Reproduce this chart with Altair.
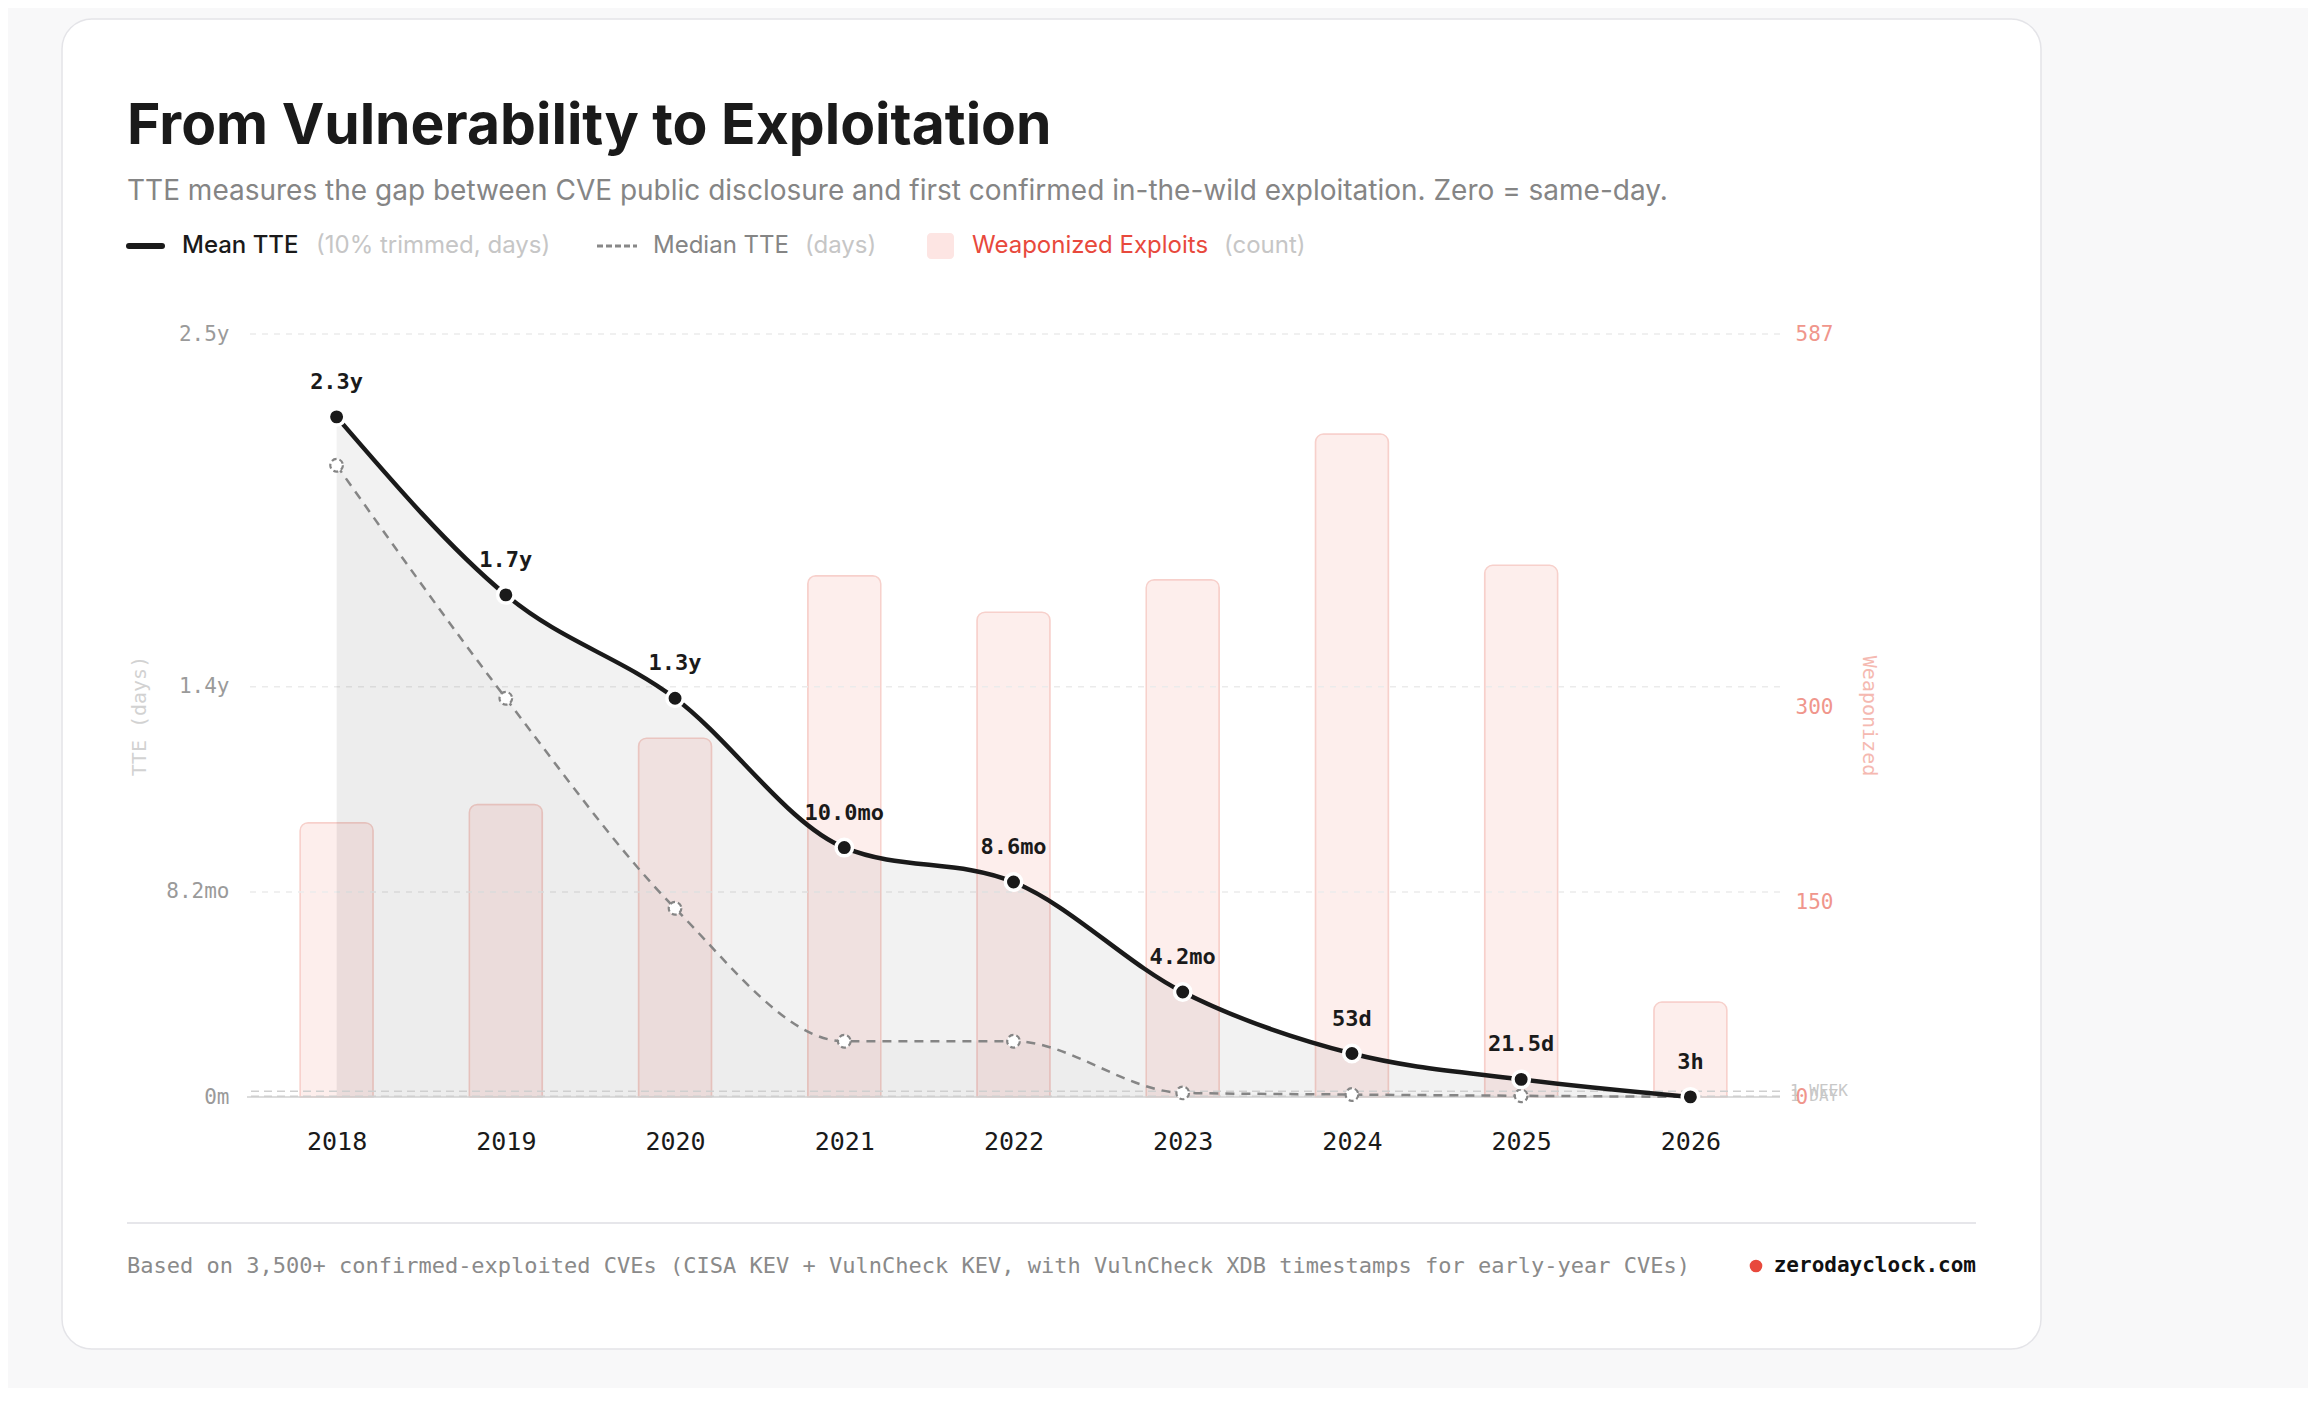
import altair as alt
import pandas as pd

# ---------------- data ----------------
years = [2018, 2019, 2020, 2021, 2022, 2023, 2024, 2025, 2026]
mean_tte_days = [829, 612, 486, 304, 262, 128, 53, 21.5, 0.125]
median_tte_days = [770, 486, 230, 68, 68, 5, 3, 1.5, 0.1]
weaponized_counts = [211, 225, 276, 401, 373, 398, 510, 409, 73]

days_ticks = [0, 250, 500, 930]
count_ticks = [0, 150, 300, 587]
ref_days = [7, 1]
ref_labels = ["1 WEEK", "1 DAY"]


def fmt_days(d):
    if d >= 365:
        return f"{d / 365.25:.1f}y"
    if d >= 60:
        return f"{d / 30.44:.1f}mo"
    if d >= 1:
        return f"{d:g}d"
    if d > 0:
        return f"{round(d * 24)}h"
    return "0m"


df = pd.DataFrame({
    "year": years,
    "mean": mean_tte_days,
    "median": median_tte_days,
    "count": weaponized_counts,
    "label": [fmt_days(v) for v in mean_tte_days],
})
grid_df = pd.DataFrame({"v": days_ticks[1:]})
base_df = pd.DataFrame({"v": [0]})
ref_df = pd.DataFrame({"v": ref_days, "label": ref_labels})
one = pd.DataFrame({"a": [0]})

MONO = "DejaVu Sans Mono"
SANS = "Inter"

W, H = 1533, 763

label_expr = " : ".join(
    f"datum.value == {t} ? '{fmt_days(t)}'" for t in days_ticks
) + " : ''"

X = alt.X(
    "year:Q",
    scale=alt.Scale(domain=[2017.5, 2026.5], nice=False, zero=False),
    axis=alt.Axis(values=years, format="d", labelFont=MONO, labelFontSize=25,
                  labelColor="#1a1a1a", ticks=False, domain=False, grid=False,
                  labelPadding=32, labelFlush=False, title=None, zindex=1),
)

SC_D = alt.Scale(domain=[0, 930], nice=False, zero=True)
AX_D = alt.Axis(orient="left", values=days_ticks, labelExpr=label_expr,
                labelFont=MONO, labelFontSize=21, labelColor="#9a9a9a",
                labelPadding=18, ticks=False, domain=False, grid=False,
                title="TTE (days)", titleFont=MONO, titleFontSize=20,
                titleFontWeight="normal", titleColor="#d2d2d2", titlePadding=16,
                zindex=1)


def yd(field):
    return alt.Y(f"{field}:Q", scale=SC_D, axis=AX_D)


# ---------------- card background ----------------
card = alt.Chart(one).mark_rect(
    fill="white", stroke="#e4e4e8", strokeWidth=1.5, cornerRadius=30
).encode(x=alt.value(-185), x2=alt.value(1794), y=alt.value(-315), y2=alt.value(1015))

# ---------------- bars (right axis) ----------------
bars = alt.Chart(df).mark_bar(
    size=73, orient="vertical", fill="#f08a80", fillOpacity=0.15,
    stroke="#f7d0cb", strokeWidth=1.5, cornerRadiusTopLeft=8, cornerRadiusTopRight=8,
).encode(
    x=X,
    y=alt.Y("count:Q", scale=alt.Scale(domain=[0, 587], nice=False),
            axis=alt.Axis(orient="right", values=count_ticks, labelFont=MONO,
                          labelFontSize=21, labelColor="#f0968c", labelPadding=15,
                          ticks=False, domain=False, grid=False, title="Weaponized",
                          titleFont=MONO, titleFontSize=20, titleFontWeight="normal",
                          titleColor="#f5b9b1", titlePadding=26, zindex=1)),
)

# ---------------- TTE layers (left axis) ----------------
grid = alt.Chart(grid_df).mark_rule(color="#ebebeb", strokeWidth=1.5, strokeDash=[6, 6]).encode(y=yd("v"))
mean_area = alt.Chart(df).mark_area(interpolate="monotone", color="black", opacity=0.05).encode(x=X, y=yd("mean"))
median_area = alt.Chart(df).mark_area(interpolate="monotone", color="black", opacity=0.02).encode(x=X, y=yd("median"))
baseline = alt.Chart(base_df).mark_rule(color="#d0d0d0", strokeWidth=1.5).encode(y=yd("v"))
refs = alt.Chart(ref_df).mark_rule(color="#cfcfcf", strokeWidth=1.5, strokeDash=[8, 5]).encode(y=yd("v"))
ref_text = alt.Chart(ref_df).mark_text(
    font=MONO, fontSize=16, color="#c8c8c8", align="left", baseline="middle"
).encode(x=alt.value(1543), y=yd("v"), text="label:N")
median_line = alt.Chart(df).mark_line(
    interpolate="monotone", color="#858585", strokeWidth=2.5, strokeDash=[9, 7]
).encode(x=X, y=yd("median"))
median_pts = alt.Chart(df).mark_point(
    shape="circle", filled=True, fill="white", stroke="#858585", strokeWidth=2.2,
    strokeDash=[5, 3], size=160, opacity=1
).encode(x=X, y=yd("median"))
mean_line = alt.Chart(df).mark_line(
    interpolate="monotone", color="#1a1a1a", strokeWidth=4.5, strokeCap="round"
).encode(x=X, y=yd("mean"))
mean_pts = alt.Chart(df).mark_point(
    shape="circle", filled=True, fill="#1a1a1a", stroke="white", strokeWidth=3.5,
    size=270, opacity=1
).encode(x=X, y=yd("mean"))
mean_lbl = alt.Chart(df).mark_text(
    font=MONO, fontSize=22, fontWeight="bold", color="#1a1a1a", dy=-35, baseline="middle"
).encode(x=X, y=yd("mean"), text="label:N")

tte = alt.layer(grid, mean_area, median_area, baseline, refs, ref_text,
                median_line, median_pts, mean_line, mean_pts, mean_lbl)


# ---------------- decorations: title, legend, footer ----------------
def txt(text, x, y, size, color, font=SANS, weight="normal", align="left", baseline="alphabetic"):
    return alt.Chart(one).mark_text(
        text=text, font=font, fontSize=size, color=color, fontWeight=weight,
        align=align, baseline=baseline
    ).encode(x=alt.value(x), y=alt.value(y))


title = txt("From Vulnerability to Exploitation", -120, -190, 57, "#1a1a1a", weight="bold")
subtitle = txt("TTE measures the gap between CVE public disclosure and first confirmed "
               "in-the-wild exploitation. Zero = same-day.", -120, -134, 28, "#858585")

LY = -88
leg_mean_sw = alt.Chart(one).mark_rule(color="#1a1a1a", strokeWidth=6, strokeCap="round").encode(
    x=alt.value(-118), x2=alt.value(-85), y=alt.value(LY))
leg_mean = txt("Mean TTE", -65, LY, 24, "#1a1a1a", weight=500, baseline="middle")
leg_mean_n = txt("(10% trimmed, days)", 69, LY, 24, "#c6c6c6", baseline="middle")
leg_med_sw = alt.Chart(one).mark_rule(color="#888888", strokeWidth=3, strokeDash=[6, 3]).encode(
    x=alt.value(350), x2=alt.value(390), y=alt.value(LY))
leg_med = txt("Median TTE", 406, LY, 24, "#858585", baseline="middle")
leg_med_n = txt("(days)", 558, LY, 24, "#c6c6c6", baseline="middle")
leg_w_sw = alt.Chart(one).mark_rect(fill="#fde5e3", cornerRadius=4).encode(
    x=alt.value(680), x2=alt.value(707), y=alt.value(LY - 13), y2=alt.value(LY + 13))
leg_w = txt("Weaponized Exploits", 725, LY, 24, "#e8493c", baseline="middle")
leg_w_n = txt("(count)", 977, LY, 24, "#c6c6c6", baseline="middle")

foot_rule = alt.Chart(one).mark_rule(color="#e6e6ea", strokeWidth=2).encode(
    x=alt.value(-120), x2=alt.value(1729), y=alt.value(889))
foot_text = txt("Based on 3,500+ confirmed-exploited CVEs (CISA KEV + VulnCheck KEV, with "
                "VulnCheck XDB timestamps for early-year CVEs)", -120, 932, 22, "#8a8a8a",
                font=MONO, baseline="middle")
foot_dot = alt.Chart(one).mark_point(shape="circle", filled=True, color="#e8493c", size=160, opacity=1).encode(
    x=alt.value(1509), y=alt.value(932))
foot_site = txt("zerodayclock.com", 1729, 932, 21, "#111111", font=MONO, weight="bold",
                align="right", baseline="middle")

chart = alt.layer(
    card, bars, tte,
    title, subtitle,
    leg_mean_sw, leg_mean, leg_mean_n, leg_med_sw, leg_med, leg_med_n, leg_w_sw, leg_w, leg_w_n,
    foot_rule, foot_text, foot_dot, foot_site,
).resolve_scale(y="independent").properties(
    width=W, height=H,
    padding={"left": 239, "top": 326, "right": 528, "bottom": 291},
    autosize=alt.AutoSizeParams(type="none"),
    background="#f8f8f9",
).configure_view(stroke=None)

chart.save("out.html", embed_options={"renderer": "svg", "actions": False})
